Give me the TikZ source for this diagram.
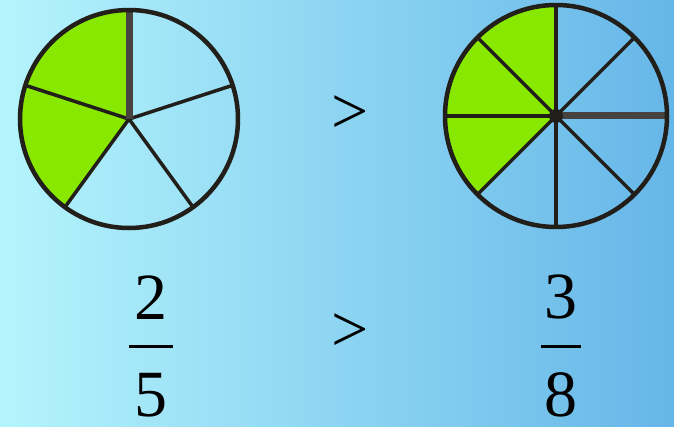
\documentclass[tikz,border=0pt]{standalone}
\usepackage{fontspec}
\setmainfont{Liberation Serif}
\usetikzlibrary{positioning}
\definecolor{fracsky}{HTML}{B4F4FC}
\definecolor{fracblue}{HTML}{66B6E8}
\definecolor{fracgreen}{HTML}{88E800}
\definecolor{fracink}{HTML}{221E1A}
\definecolor{fracgrey}{HTML}{45423F}
\tikzset{
  rim/.style={draw=fracink, line width=4.5pt},
  spoke/.style={draw=fracink, line width=3.5pt},
  wide/.style={draw=fracgrey, line width=7pt},
  part/.style={fill=fracgreen},
  big/.style={font=\fontsize{66}{70}\selectfont, inner sep=0pt},
  barnode/.style={inner sep=0pt},
}

\begin{document}
\begin{tikzpicture}[x=1pt, y=1pt, node distance=25pt]
  \shade[left color=fracsky, right color=fracblue] (0,0) rectangle (674,426);
  \useasboundingbox (0,0) rectangle (674,426);
  % two of five parts
  \coordinate (c5) at (129,307);
  \foreach \a in {0,1}
    \fill[part] (c5) -- ++({90+72*\a}:109) arc[start angle={90+72*\a}, delta angle=72, radius=109] -- cycle;
  \foreach \a in {18,162,234,306}
    \draw[spoke] (c5) -- ++(\a:109);
  \draw[wide] (c5) -- ++(90:109);
  \draw[rim] (c5) circle[radius=109];
  % three of eight parts
  \coordinate (c8) at (556,310);
  \foreach \a in {0,1,2}
    \fill[part] (c8) -- ++({90+45*\a}:111) arc[start angle={90+45*\a}, delta angle=45, radius=111] -- cycle;
  \foreach \a in {45,90,135,180,225,270,315}
    \draw[spoke] (c8) -- ++(\a:111);
  \draw[wide] (c8) -- ++(0:111);
  \draw[rim] (c8) circle[radius=111];
  \fill[fracink] (c8) circle[radius=7];
  \node[big] (gtTop) at (350,311) {>};
  % fractions
  \node[barnode] (bar5) at (151,80) {\rule{44pt}{3pt}};
  \node[big, above=of bar5] (num2) {2};
  \node[big, below=of bar5] (den5) {5};
  \node[big] (gtLow) at (350,93) {>};
  \node[barnode] (bar8) at (561,80) {\rule{40pt}{3pt}};
  \node[big, above=of bar8] (num3) {3};
  \node[big, below=of bar8] (den8) {8};
\end{tikzpicture}
\end{document}
